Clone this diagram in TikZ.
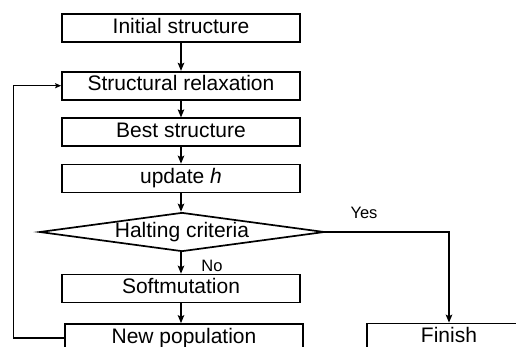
\documentclass[tikz,border=0pt]{standalone}
\usepackage{fontspec}
\setmainfont{Liberation Sans}
\usetikzlibrary{shapes.geometric,arrows.meta}
\begin{document}
\begin{tikzpicture}[x=1pt,y=-1pt,
  box/.style={draw, line width=1.7pt, minimum width=238pt, minimum height=28pt, inner sep=0pt,
    font=\fontsize{21}{25}\selectfont, text height=14.5pt, text depth=4pt},
  dia/.style={draw, diamond, line width=1.7pt, minimum width=285pt, minimum height=39pt, inner sep=0pt, aspect=7},
  flow/.style={line width=1.5pt, -{Stealth[length=8pt,width=6.5pt,inset=1.5pt]}},
  back/.style={line width=1.2pt, -{Stealth[length=6pt,width=5pt,inset=1pt]}},
  lbl/.style={font=\fontsize{16.5}{19}\selectfont, inner sep=0pt}]
\useasboundingbox (0,0) rectangle (516,346);
\clip (0,0) rectangle (516,346);
\node[box] (init) at (181,28.3) {Initial structure};
\node[box] (sr) at (181,85.7) {Structural relaxation};
\node[box] (bs) at (181,132.3) {Best structure};
\node[box] (up) at (181,178.5) {update \textit{h}};
\node[dia] (d) at (182,232) {};
\node[font=\fontsize{21}{25}\selectfont, inner sep=0pt] (dt) at (d) {Halting criteria};
\node[box] (soft) at (181,288.5) {Softmutation};
\node[box] (np) at (184,338) {New population};
\node[box, minimum width=164pt] (fin) at (449,337.5) {Finish};
\draw[flow] (init.south) -- (sr.north);
\draw[flow] (sr.south) -- (bs.north);
\draw[flow] (bs.south) -- (up.north);
\draw[flow] (up.south) -- (up.south |- d.north);
\draw[flow] (up.south |- d.south) -- (soft.north);
\draw[flow] (soft.south) -- (soft.south |- np.north);
\draw[flow] (d.east) -| (fin.north);
\draw[back] (np.west) -- ++(-51,0) |- (sr.west);
\node[lbl] (yes) at (364,213) {Yes};
\node[lbl] (no) at (212,266) {No};
\end{tikzpicture}
\end{document}
